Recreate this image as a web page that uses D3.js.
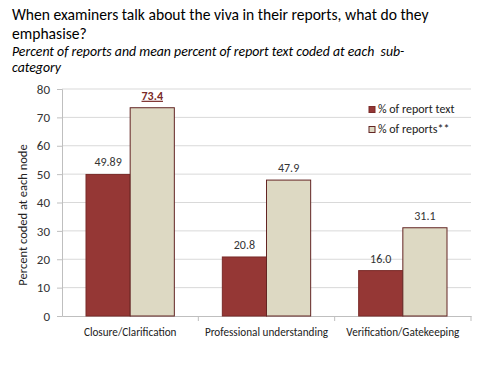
<!DOCTYPE html>
<html>
<head>
<meta charset="utf-8">
<script src="https://cdn.jsdelivr.net/npm/d3@7"></script>
<style>
  body { margin: 0; background: #fff; }
  svg { display: block; font-family: Carlito, Lato, "Open Sans", sans-serif; }
</style>
</head>
<body>
<div id="chart"></div>
<script>
const categories = ['Closure/Clarification', 'Professional understanding', 'Verification/Gatekeeping'];
const seriesNames = ['% of report text', '% of reports**'];
const reportText = [49.89, 20.8, 16.0];
const reports = [73.4, 47.9, 31.1];
const textLabels = ['49.89', '20.8', '16.0'];
const reportLabels = ['73.4', '47.9', '31.1'];
const yTicks = [0, 10, 20, 30, 40, 50, 60, 70, 80];

const svgWidth = 480;
const svgHeight = 370;

const margin = { top: 89, left: 62, right: 9, bottom: 54 };
const width = svgWidth - margin.left - margin.right;
const height = svgHeight - margin.top - margin.bottom;

const colors = ['#953735', '#ddd9c3'];
const strokes = ['#7a2b29', '#632523'];
const fontStack = 'Carlito, Lato, "Open Sans", sans-serif';

const svg = d3.select('#chart').append('svg')
    .attr('width', svgWidth)
    .attr('height', svgHeight);

// Title
svg.append('text')
    .attr('x', 12).attr('y', 20)
    .style('font-size', '15.6px').attr('fill', '#000')
    .text('When examiners talk about the viva in their reports, what do they');
svg.append('text')
    .attr('x', 12).attr('y', 39)
    .style('font-size', '15.6px').attr('fill', '#000')
    .text('emphasise?');
svg.append('text')
    .attr('x', 12).attr('y', 56)
    .style('font-size', '13.8px').style('font-style', 'italic').style('white-space', 'pre')
    .attr('fill', '#000')
    .text('Percent of reports and mean percent of report text coded at each  sub-');
svg.append('text')
    .attr('x', 12).attr('y', 72)
    .style('font-size', '13.8px').style('font-style', 'italic').attr('fill', '#000')
    .text('category');

const chart = svg.append('g')
    .attr('transform', `translate(${margin.left},${margin.top})`);

const y = d3.scaleLinear().domain([0, 80]).range([height, 0]);
const x0 = d3.scaleBand().domain(categories).range([0, width]).padding(0);
const x1 = d3.scaleBand().domain(seriesNames).range([24, x0.bandwidth() - 24]).padding(0);

// Gridlines
chart.selectAll('line.grid')
    .data(yTicks.filter(d => d > 0))
    .enter()
    .append('line')
    .attr('class', 'grid')
    .attr('x1', 0).attr('x2', width)
    .attr('y1', d => y(d)).attr('y2', d => y(d))
    .attr('stroke', '#d9d9d9').attr('stroke-width', 1);

// Y axis
const yAxis = chart.append('g')
    .call(d3.axisLeft(y).tickValues(yTicks).tickSize(5).tickPadding(7));
yAxis.select('.domain').attr('stroke', '#bfbfbf');
yAxis.selectAll('.tick line').attr('stroke', '#bfbfbf');
yAxis.selectAll('.tick text')
    .style('font-size', '13px').style('font-family', fontStack)
    .attr('fill', '#333');

// X axis
const xAxis = chart.append('g')
    .attr('transform', `translate(0,${height})`)
    .call(d3.axisBottom(x0).tickSize(0).tickPadding(12));
xAxis.select('.domain').attr('stroke', '#bfbfbf');
xAxis.selectAll('.tick text')
    .style('font-size', '11.2px').style('font-family', fontStack)
    .attr('fill', '#222');
chart.selectAll('line.xtick')
    .data(categories.slice(1).concat(['end']))
    .enter()
    .append('line')
    .attr('class', 'xtick')
    .attr('x1', d => d === 'end' ? width : x0(d))
    .attr('x2', d => d === 'end' ? width : x0(d))
    .attr('y1', height).attr('y2', height + 5)
    .attr('stroke', '#bfbfbf');

// Bars
const rows = categories.map((c, i) => ({
    category: c,
    values: [
        { series: seriesNames[0], value: reportText[i], label: textLabels[i], idx: 0 },
        { series: seriesNames[1], value: reports[i], label: reportLabels[i], idx: 1 }
    ]
}));

const groups = chart.selectAll('g.group')
    .data(rows)
    .enter()
    .append('g')
    .attr('class', 'group')
    .attr('transform', d => `translate(${x0(d.category)},0)`);

groups.selectAll('rect')
    .data(d => d.values)
    .enter()
    .append('rect')
    .attr('x', d => x1(d.series))
    .attr('y', d => y(d.value))
    .attr('width', x1.bandwidth())
    .attr('height', d => height - y(d.value))
    .attr('fill', d => colors[d.idx])
    .attr('stroke', d => strokes[d.idx])
    .attr('stroke-width', 1);

groups.selectAll('text.val')
    .data(d => d.values)
    .enter()
    .append('text')
    .attr('class', 'val')
    .attr('x', d => x1(d.series) + x1.bandwidth() / 2)
    .attr('y', d => y(d.value) - 8)
    .attr('text-anchor', 'middle')
    .style('font-size', '12px')
    .attr('fill', '#333')
    .text(d => d.label);

// Highlighted label (73.4)
groups.filter((d, i) => i === 0).selectAll('text.val')
    .filter(d => d.idx === 1)
    .attr('fill', '#7a2b29')
    .style('font-weight', 'bold')
    .style('text-decoration', 'underline');

// Legend
const legend = svg.append('g')
    .attr('transform', 'translate(369,105)');

const legendItem = legend.selectAll('g')
    .data(seriesNames)
    .enter()
    .append('g')
    .attr('transform', (d, i) => `translate(0,${i * 20})`);

legendItem.append('rect')
    .attr('width', 6).attr('height', 6)
    .attr('y', 1.5)
    .attr('fill', (d, i) => colors[i])
    .attr('stroke', (d, i) => strokes[i]);

legendItem.append('text')
    .attr('x', 9).attr('y', 8)
    .style('font-size', '12px')
    .attr('fill', '#222')
    .text(d => d);

// Y axis title
svg.append('text')
    .attr('transform', 'translate(27,215) rotate(-90)')
    .attr('text-anchor', 'middle')
    .style('font-size', '12.5px')
    .attr('fill', '#222')
    .text('Percent coded at each node');
</script>
</body>
</html>
